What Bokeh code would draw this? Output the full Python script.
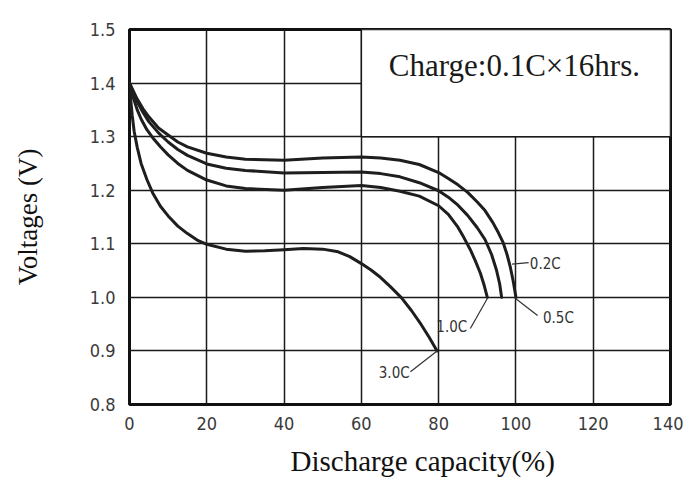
from bokeh.plotting import figure
from bokeh.models import FixedTicker, Label, Title
from bokeh.embed import file_html
from bokeh.resources import INLINE

# ---- data ----
x_ticks = [0, 20, 40, 60, 80, 100, 120, 140]
x_tick_labels = ["0", "20", "40", "60", "80", "100", "120", "140"]
y_ticks = [0.8, 0.9, 1.0, 1.1, 1.2, 1.3, 1.4, 1.5]
y_tick_labels = ["0.8", "0.9", "1.0", "1.1", "1.2", "1.3", "1.4", "1.5"]

cap_02 = [0, 1, 2, 3.5, 5, 7.5, 10, 12.5, 15, 20, 25, 30, 40, 50, 60, 65, 70, 75, 80, 82.5, 85, 87.5, 90, 92, 94, 95.5, 96.7, 97.7, 98.5, 99.3, 100]
v_02 = [1.4, 1.385, 1.37, 1.352, 1.337, 1.316, 1.303, 1.290, 1.281, 1.269, 1.262, 1.258, 1.256, 1.260, 1.262, 1.260, 1.256, 1.248, 1.233, 1.222, 1.210, 1.196, 1.178, 1.162, 1.140, 1.120, 1.102, 1.080, 1.058, 1.030, 1.0]

cap_05 = [0, 1, 2, 3.5, 5, 7.5, 10, 12.5, 15, 20, 25, 30, 40, 50, 60, 65, 70, 75, 80, 82.5, 85, 87.5, 90, 92, 93.7, 95, 95.8, 96.3]
v_05 = [1.4, 1.382, 1.365, 1.345, 1.328, 1.307, 1.290, 1.276, 1.265, 1.249, 1.241, 1.237, 1.232, 1.233, 1.234, 1.231, 1.225, 1.214, 1.199, 1.187, 1.172, 1.153, 1.130, 1.108, 1.080, 1.050, 1.025, 1.0]

cap_10 = [0, 1, 2, 3, 4.5, 6, 8, 10, 12.5, 15, 20, 25, 30, 40, 50, 60, 65, 70, 75, 80, 82.5, 84.8, 86.5, 88.2, 89.5, 90.8, 91.8, 92.6]
v_10 = [1.4, 1.372, 1.35, 1.333, 1.313, 1.298, 1.281, 1.266, 1.25, 1.237, 1.219, 1.208, 1.203, 1.2, 1.205, 1.209, 1.205, 1.198, 1.189, 1.171, 1.155, 1.133, 1.112, 1.089, 1.068, 1.045, 1.022, 1.0]

cap_30 = [0, 0.3, 0.7, 1.2, 2, 3, 4.5, 6, 8, 10, 12.5, 15, 17.5, 20, 25, 30, 35, 40, 45, 50, 54, 57, 60, 62.5, 65, 67.5, 70.4, 73, 75.5, 77.5, 79.6]
v_30 = [1.4, 1.37, 1.34, 1.31, 1.28, 1.25, 1.22, 1.195, 1.17, 1.152, 1.133, 1.119, 1.107, 1.099, 1.09, 1.086, 1.087, 1.089, 1.091, 1.090, 1.085, 1.076, 1.063, 1.051, 1.037, 1.020, 0.999, 0.975, 0.949, 0.926, 0.9]

rate_names = ["0.2C", "0.5C", "1.0C", "3.0C"]
leader_x0 = [99.0, 99.9, 92.6, 79.6]
leader_y0 = [1.062, 0.998, 0.998, 0.9]
leader_x1 = [103.3, 105.6, 88.2, 72.7]
leader_y1 = [1.065, 0.966, 0.942, 0.861]
label_x = [103.6, 107.0, 87.4, 72.5]
label_y = [1.063, 0.962, 0.944, 0.859]
label_align = ["left", "left", "right", "right"]

box_text = "Charge:0.1C\u00d716hrs."
x_title = "Discharge capacity(%)"
y_title = "Voltages (V)"

NARROW = "'Liberation Sans Narrow', 'DejaVu Sans Condensed', 'Arial Narrow', 'Roboto Condensed', sans-serif"

# ---- figure ----
p = figure(width=683, height=487, output_backend="svg", toolbar_location=None,
           x_range=(0, 140), y_range=(0.8, 1.5),
           min_border_left=129, min_border_right=13, min_border_top=29, min_border_bottom=83)
p.background_fill_color = "white"
p.border_fill_color = "white"
p.outline_line_color = "#111111"
p.outline_line_width = 3

for ax in (p.xaxis[0], p.yaxis[0]):
    ax.axis_line_color = None
    ax.major_tick_line_color = None
    ax.minor_tick_line_color = None
    ax.major_label_text_font = NARROW
    ax.major_label_text_font_size = "18px"
    ax.major_label_text_color = "#3a3a3a"
    ax.axis_label_text_font = "Liberation Serif"
    ax.axis_label_text_font_style = "normal"
    ax.axis_label_text_color = "#111111"

p.yaxis.axis_label_text_font_size = "27px"
p.xaxis.ticker = FixedTicker(ticks=x_ticks)
p.yaxis.ticker = FixedTicker(ticks=y_ticks)
p.xaxis.major_label_overrides = {t: l for t, l in zip(x_ticks, x_tick_labels)}
p.yaxis.major_label_overrides = {t: l for t, l in zip(y_ticks, y_tick_labels)}
p.xaxis.major_label_standoff = 6
p.yaxis.major_label_standoff = 8
p.yaxis.axis_label = y_title
p.yaxis.axis_label_standoff = 44

# x title placed off-centre like the original (a Title below the axis)
p.add_layout(Title(text=x_title, align="left", offset=161, standoff=21,
                   text_font="Liberation Serif", text_font_size="29px",
                   text_font_style="normal", text_color="#111111"), "below")

p.xgrid.ticker = FixedTicker(ticks=x_ticks)
p.ygrid.ticker = FixedTicker(ticks=y_ticks)
for g in (p.xgrid[0], p.ygrid[0]):
    g.grid_line_color = "#1a1a1a"
    g.grid_line_width = 1.5

# text box (covers grid)
p.quad(left=[60], right=[140], bottom=[1.3], top=[1.5], fill_color="white",
       line_color="#1a1a1a", line_width=1.5)
p.add_layout(Label(x=99.6, y=1.433, text=box_text, text_align="center", text_baseline="middle",
                   text_font="Liberation Serif", text_font_size="31px", text_color="#1a1a1a"))

# curves
for xs, ys in ((cap_02, v_02), (cap_05, v_05), (cap_10, v_10), (cap_30, v_30)):
    p.line(xs, ys, line_color="#1e1e1e", line_width=3, line_join="round", line_cap="round")

# leader lines and rate labels
p.segment(x0=leader_x0, y0=leader_y0, x1=leader_x1, y1=leader_y1,
          line_color="#333333", line_width=1.2)
for name, lx, ly, al in zip(rate_names, label_x, label_y, label_align):
    p.add_layout(Label(x=lx, y=ly, text=name, text_align=al, text_baseline="middle",
                       text_font=NARROW, text_font_size="15px",
                       text_color="#333333"))

open("out.html", "w").write(file_html(p, INLINE))
